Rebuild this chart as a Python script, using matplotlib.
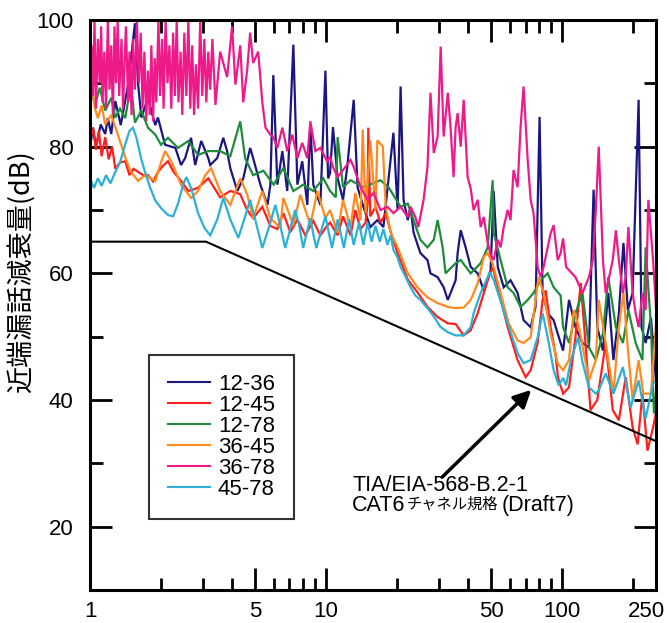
import matplotlib
matplotlib.use('Agg')
import matplotlib.pyplot as plt
import matplotlib.transforms as mtransforms
from matplotlib.lines import Line2D

plt.rcParams['font.family'] = ['Liberation Sans', 'DejaVu Sans']

# ---------------- data (MHz, dB) ----------------
f_1236 = [1.0, 1.03, 1.06, 1.11, 1.16, 1.19, 1.23, 1.28, 1.35, 1.45, 1.55, 1.6, 1.65, 1.76, 1.89, 1.94,
          2.08, 2.3, 2.43, 2.53, 2.68, 2.79, 2.96, 3.17, 3.23, 3.46, 3.67, 3.81, 3.93, 4.21, 4.46, 4.77,
          4.91, 5.27, 5.65, 5.81, 5.98, 6.22, 6.53, 6.85, 7.27, 7.56, 7.93, 8.33, 8.58, 8.83, 9.46, 9.94,
          10.2, 10.4, 10.7, 11.2, 11.8, 12.3, 13.1, 13.6, 14.4, 15.4, 16.5, 17.5, 19.3, 20.1, 20.7, 21.3,
          22.2, 22.8, 23.5, 25.1, 26.9, 27.7, 29.7, 31.5, 32.8, 35.4, 36.1, 37.2, 39.1, 41.0, 43.9, 46.6,
          49.8, 51.3, 53.4, 56.6, 60.5, 64.8, 68.7, 73.6, 77.2, 80.3, 82.7, 86.9, 92.1, 95.8, 101, 107,
          114, 122, 130, 136, 141, 149, 157, 165, 174, 182, 190, 199, 211, 217, 226, 238, 250]
nx_1236 = [80, 83, 80, 83.5, 82, 84.5, 82, 87.2, 83.4, 89.8, 99.5, 89.8, 84.6, 87.7, 83.4, 84.6,
           80.3, 79.8, 77.1, 78.2, 81.4, 77.1, 80.9, 78.2, 77.1, 78.2, 81.4, 79.3, 76.6, 73.0, 75.0, 79.8,
           78.2, 74.0, 70.8, 74.0, 91.3, 74.0, 79.3, 73.0, 96.1, 74.0, 77.7, 70.8, 83.5, 74.0, 70.8, 92.0,
           75.0, 75.8, 83.1, 75.0, 71.6, 76.8, 87.4, 73.6, 70.5, 67.3, 68.4, 67.3, 82.2, 70.0, 89.5, 71.6,
           68.4, 70.5, 66.4, 63.2, 62.1, 60.0, 59.4, 57.8, 55.8, 58.9, 63.2, 66.8, 64.0, 61.0, 60.0, 57.3,
           60.5, 73.0, 61.0, 57.8, 58.9, 56.9, 52.6, 51.5, 54.7, 84.7, 56.9, 53.7, 52.6, 50.5, 47.8, 55.8,
           51.5, 49.0, 48.3, 73.2, 51.5, 47.8, 56.9, 46.3, 53.7, 64.8, 54.2, 56.9, 87.4, 51.5, 49.0, 53.0, 43.0]

f_1245 = [1.0, 1.03, 1.06, 1.09, 1.12, 1.16, 1.2, 1.24, 1.28, 1.34, 1.41, 1.47, 1.53, 1.6, 1.68, 1.76,
          1.85, 1.94, 2.04, 2.14, 2.26, 2.43, 2.61, 2.87, 3.17, 3.56, 3.93, 4.33, 4.63, 4.91, 5.37, 5.81,
          6.22, 6.59, 7.06, 7.56, 8.17, 8.83, 9.46, 10.1, 10.4, 11.2, 11.8, 12.7, 13.3, 14.0, 14.7, 15.0,
          15.1, 15.4, 16.2, 17.0, 17.9, 18.8, 20.1, 22.2, 24.4, 26.9, 29.7, 32.8, 35.4, 38.3, 41.0, 43.9,
          46.6, 48.9, 50.8, 53.4, 58.8, 64.8, 70.1, 73.6, 78.8, 82.7, 85.2, 89.4, 94.0, 96.0, 101, 107,
          114, 120, 125, 132, 141, 153, 164, 174, 186, 199, 209, 219, 230, 243, 250]
nx_1245 = [81, 83, 79.5, 82.5, 78.5, 81.5, 78, 80, 76.5, 77.5, 77.7, 75.5, 76.5, 76, 75.5, 75.5,
           74.5, 76, 77, 77.7, 76, 74.6, 73, 73.5, 75, 72, 73, 72.5, 70, 68.7, 70.5, 67.5,
           67, 69.5, 66.5, 68.5, 66, 68.3, 66, 67.5, 68, 66, 69, 66, 70, 67, 68, 71,
           83, 69, 70.5, 68, 69.5, 66.5, 63.2, 59, 57, 54.7, 53.1, 52.1, 52, 50.2, 51, 53.7,
           56.9, 59.4, 61, 57.8, 51.5, 46.3, 43.6, 44.7, 49, 55.8, 57.3, 51.5, 47, 43.6, 41, 42,
           50, 58.5, 50, 38.4, 40, 49, 38.4, 36.8, 43.6, 35.7, 33, 41, 32, 35.7, 38]

f_1278 = [1.0, 1.01, 1.05, 1.1, 1.16, 1.23, 1.28, 1.34, 1.41, 1.49, 1.55, 1.65, 1.76, 1.89, 2.0, 2.14,
          2.36, 2.61, 2.87, 3.17, 3.56, 3.93, 4.33, 4.54, 4.91, 5.43, 6.0, 6.59, 7.27, 8.01, 8.83, 9.74,
          10.4, 11.0, 11.2, 11.8, 12.7, 14.4, 17.0, 18.4, 20.7, 22.2, 23.5, 25.1, 26.9, 28.6, 29.7, 31.2,
          32.1, 35.4, 37.2, 41.0, 45.2, 48.4, 50.8, 51.3, 54.9, 58.8, 62.3, 66.7, 71.5, 75.7, 81.1, 86.9,
          92.1, 98.6, 101, 107, 114, 122, 130, 139, 149, 157, 169, 181, 191, 205, 219, 226, 238, 245, 250]
nx_1278 = [86, 88.8, 86.6, 89.3, 85.7, 87.7, 84.6, 86, 84.5, 89.8, 83.8, 85.7, 83, 81.9, 80.3, 81.4,
           79.8, 80.9, 78.7, 79.3, 79.3, 78.5, 84, 78.2, 75.5, 76.2, 74, 76.6, 73, 74, 73, 75,
           73, 72, 81.5, 73.6, 74.7, 73.6, 74.7, 73.6, 70.5, 71, 68.4, 65.3, 64.1, 65.3, 68.4, 64.1,
           60, 61.6, 62.1, 60, 61.6, 64.1, 74.7, 66.4, 62.1, 57.8, 56.9, 54.7, 55.8, 56.9, 58.9, 60,
           57.8, 56.5, 51.5, 49, 53.7, 56.9, 48.3, 46.3, 50.5, 59.4, 51.5, 49, 54.2, 49, 46.3, 64.1, 51.5, 37.9, 41]

f_3645 = [1.0, 1.02, 1.05, 1.08, 1.12, 1.16, 1.23, 1.31, 1.41, 1.49, 1.6, 1.71, 1.89, 2.02, 2.08, 2.21,
          2.43, 2.68, 2.87, 3.08, 3.26, 3.56, 3.93, 4.33, 4.63, 4.91, 5.37, 5.81, 6.4, 6.59, 7.27, 7.78,
          8.58, 9.19, 9.94, 10.4, 11.2, 11.8, 12.7, 13.3, 14.0, 14.3, 14.7, 15.4, 16.2, 16.5, 17.4, 17.9,
          18.8, 20.1, 21.1, 22.2, 24.4, 26.9, 29.7, 32.8, 35.4, 38.3, 41.0, 43.9, 46.6, 48.4, 50.8, 54.9,
          59.4, 64.8, 68.7, 73.6, 77.2, 79.5, 83.5, 89.4, 95.8, 101, 107, 112, 118, 130, 139, 143, 153,
          165, 174, 182, 190, 199, 211, 221, 238, 250]
nx_3645 = [86, 89.5, 86, 84.5, 86.5, 83.5, 85, 82, 78.3, 76, 74.6, 75.5, 74.6, 78, 79.3, 77.7,
           74, 71.9, 73, 75.5, 76.6, 73, 70.8, 75, 72.5, 68.7, 73, 68.7, 67.2, 71.9, 67.6, 72.4,
           67.6, 73, 68.7, 70, 66.4, 71.6, 67.3, 72.7, 68.4, 82.7, 69.5, 81, 70, 81, 80, 70.5,
           66.4, 64.1, 62.1, 60, 57.8, 56.2, 55.3, 54.7, 54.5, 54.6, 55.8, 58.4, 62.6, 63.2, 61.5, 56.9,
           52.1, 49.4, 49, 49.9, 55.8, 59.4, 56.9, 50.5, 45.8, 44.7, 46.3, 54.2, 51.5, 43.1, 46.3, 55.8, 49,
           41, 51.5, 56.9, 48, 40, 46.3, 41, 41, 52]

f_3678 = [1.00, 1.015, 1.03, 1.045, 1.06, 1.08, 1.10, 1.115, 1.13, 1.15, 1.17, 1.19, 1.21, 1.23, 1.25,
          1.27, 1.29, 1.31, 1.33, 1.36, 1.38, 1.40, 1.42, 1.45, 1.47, 1.50, 1.52, 1.55, 1.58, 1.61, 1.64,
          1.67, 1.70, 1.73, 1.76, 1.79, 1.82, 1.85, 1.88, 1.91, 1.95, 1.98, 2.02, 2.05, 2.09, 2.13, 2.17,
          2.21, 2.25, 2.29, 2.33, 2.37, 2.42, 2.46, 2.51, 2.56, 2.61, 2.66, 2.71, 2.76, 2.81, 2.87, 2.93,
          2.99, 3.05, 3.11, 3.17, 3.23, 3.3, 3.4, 3.56, 3.81, 4.0, 4.13, 4.33,
          4.46, 4.63, 4.77, 4.91, 5.16, 5.37, 5.54, 5.81, 5.98, 6.22, 6.53, 6.85, 7.2, 7.56, 7.93, 8.33,
          8.58, 9.01, 9.46, 10.1, 10.4, 10.7, 11.2, 11.8, 12.7, 13.1, 14.0, 15.0, 15.9, 17.0, 18.2, 19.3,
          20.7, 22.2, 22.8, 23.9, 24.6, 25.9, 26.9, 27.7, 28.6, 29.7, 30.6, 31.5, 32.8, 33.7, 34.7, 35.4,
          36.1, 37.2, 38.3, 39.8, 41.0, 42.2, 43.9, 45.2, 46.6, 48.4, 49.8, 51.3, 53.4, 54.9, 56.6, 58.8,
          60.5, 62.3, 64.8, 66.7, 68.7, 71.5, 73.6, 75.7, 78.8, 81.1, 83.5, 86.9, 89.4, 92.1, 95.8, 98.6,
          101, 104, 107, 114, 122, 130, 135, 139, 143, 149, 153, 164, 169, 174, 181, 186, 191, 199, 205,
          211, 219, 226, 232, 243, 250]
nx_3678 = [84, 96, 88, 100, 86, 97, 90, 99, 87, 95, 86, 100, 89, 96, 85,
           99, 90, 100, 88, 97, 86, 93, 99, 87, 95, 85, 97, 89, 100, 90, 98,
           86, 95, 84, 92, 85, 96, 84, 94, 87, 100, 88, 97, 86, 100, 90, 96,
           86, 98, 88, 100, 87, 95, 85, 98, 88, 100, 86, 96, 85, 93, 86, 100,
           88, 97, 87, 95, 89, 97, 86.6, 95, 91, 99, 89.8, 96,
           87, 92, 98, 93.2, 95, 87, 83, 81.9, 81.5, 79.8, 83, 79.3, 81.9, 78.2, 80.6, 78.2,
           84, 79.3, 79.8, 77.7, 78.4, 76.8, 75.2, 76.3, 77.9, 76.8, 73.6, 71.6, 72.7, 70, 70.5, 69.5,
           70.5, 68.9, 70.5, 68.9, 67.3, 71.6, 76.8, 88.5, 79, 81.6, 95.8, 81.6, 88.5, 83, 75.2, 83,
           85.3, 80, 87.4, 75.2, 73.4, 70, 71.6, 67.3, 68.9, 64.8, 63, 62.1, 65.3, 64.1, 67.3, 70,
           68.4, 76.3, 73.6, 83.1, 89.5, 77.9, 71.6, 69.5, 61, 59.4, 61, 64.1, 66.3, 67.6, 62.1, 63.2,
           65.5, 61, 60.5, 59.4, 56.9, 59.4, 62.1, 70, 80, 62.1, 56.9, 62.1, 66.8, 62.1, 56.9, 59.4, 67.3, 56.9, 53.7,
           51.5, 56.9, 54.2, 71.6, 62.1, 54.6]

f_4578 = [1.0, 1.04, 1.08, 1.12, 1.17, 1.22, 1.28, 1.34, 1.40, 1.47, 1.52, 1.57, 1.65, 1.71, 1.80, 1.89,
          2.0, 2.14, 2.25, 2.36, 2.48, 2.56, 2.68, 2.87, 3.05, 3.23, 3.46, 3.67, 3.93, 4.25, 4.5, 4.77,
          5.05, 5.37, 5.7, 6.1, 6.4, 6.72, 7.05, 7.4, 7.7, 8.0, 8.3, 8.58, 8.85, 9.1, 9.5, 9.94,
          10.6, 11.2, 11.9, 12.5, 13.1, 13.8, 14.4, 15.0, 15.6, 16.2, 16.9, 17.5, 18.2, 18.8, 19.3, 20.1,
          20.7, 21.7, 22.8, 23.9, 25.1, 26.9, 28.6, 30.6, 32.8, 35.4, 38.3, 41.0, 42.2, 45.2, 48.4, 49.4,
          51.3, 53.4, 58.8, 64.8, 68.7, 73.6, 78.8, 82.7, 86.9, 92.1, 96.8, 101, 104, 109, 117, 122,
          130, 139, 143, 153, 165, 181, 195, 211, 226, 243, 250]
nx_4578 = [75, 73.5, 75, 73.8, 75.5, 74.2, 76, 77.5, 80, 82.5, 83, 81.5, 78, 76, 73.5, 71.5,
           70.3, 69.2, 69, 71, 74, 75.2, 73.5, 69.5, 67.2, 66, 68.5, 71.9, 68.5, 65.6, 68.5, 71.6,
           68, 64, 67, 70.8, 67.5, 64, 67, 70, 67.5, 64, 66.5, 68.7, 66, 64, 66.5, 69,
           64, 68.5, 64, 68.5, 64.5, 68, 64.5, 68, 65, 67.5, 65, 67, 64.5, 66, 63.7, 62.5,
           61, 59.5, 57.8, 56.5, 55.8, 54.5, 53.2, 51.5, 50.7, 50.2, 50.2, 51.5, 53.7, 56.9, 59.4, 60.2,
           59, 57, 52.1, 47.4, 45.8, 46.3, 49.9, 53.7, 49.9, 44.7, 42.3, 43.5, 42.3, 46.3, 49.9, 46,
           42, 41, 41.5, 44.2, 41, 45.2, 38.8, 43.1, 37.1, 42.6, 43]

# TIA/EIA-568-B.2-1 CAT6 channel limit (Draft7)
f_limit = [1.0, 3.1, 250]
nx_limit = [65.0, 65.0, 33.5]

series = [
    ('12-36', f_1236, nx_1236, '#1c1680'),
    ('12-45', f_1245, nx_1245, '#ff1f1f'),
    ('12-78', f_1278, nx_1278, '#1f8c3b'),
    ('36-45', f_3645, nx_3645, '#ff8a1e'),
    ('36-78', f_3678, nx_3678, '#ee1a8a'),
    ('45-78', f_4578, nx_4578, '#2cb1d6'),
]

x_major = [1, 5, 10, 50, 100, 250]
x_minor = [2, 3, 4, 6, 7, 8, 9, 20, 30, 40, 60, 70, 80, 90, 200]
y_major = [20, 40, 60, 80, 100]
y_minor = [30, 50, 70, 90]

# ---------------- figure ----------------
fig = plt.figure(figsize=(6.69, 6.23), dpi=100)
ax = fig.add_axes([90 / 669, 1 - 590 / 623, (656 - 90) / 669, (590 - 20) / 623])

for name, f, v, c in series:
    ax.plot(f, v, color=c, lw=1.6, solid_joinstyle='miter')

ax.plot(f_limit, nx_limit, color='black', lw=1.5)

ax.set_xscale('log')
ax.set_xlim(1, 250)
ax.set_ylim(10, 100)
ax.set_xticks(x_major)
ax.set_xticklabels([str(t) for t in x_major])
ax.set_xticks(x_minor, minor=True)
ax.set_xticklabels([], minor=True)
ax.set_yticks(y_major)
ax.set_yticks(y_minor, minor=True)

ax.tick_params(which='both', direction='in', top=True, right=True, width=2, labelsize=16)
ax.tick_params(which='major', length=16)
ax.tick_params(which='minor', length=9)
ax.tick_params(axis='y', pad=12)
ax.tick_params(axis='x', pad=8)
for s in ax.spines.values():
    s.set_linewidth(2.2)

last = ax.get_xticklabels()[-1]
last.set_transform(last.get_transform() +
                   mtransforms.ScaledTranslation(-0.10, 0, fig.dpi_scale_trans))

ax.set_ylabel('近端漏話減衰量(dB)', fontsize=19.5,
              family=['Noto Sans CJK JP', 'DejaVu Sans'])
ax.yaxis.set_label_coords(-0.095, 0.558)

handles = [Line2D([], [], color=c, lw=1.5) for _, _, _, c in series]
leg = ax.legend(handles, [s[0] for s in series], loc='upper left',
                bbox_to_anchor=(0.104, 0.412), borderaxespad=0, frameon=True,
                fancybox=False, edgecolor='black', fontsize=16,
                handlelength=1.9, handletextpad=0.35, labelspacing=0.0,
                borderpad=0.85)
leg.get_frame().set_linewidth(1.5)

ax.annotate('', xy=(74, 41.6), xytext=(31, 27.8),
            arrowprops=dict(arrowstyle='-|>', lw=2.5, color='black',
                            mutation_scale=26, shrinkA=0, shrinkB=0))
t1 = ax.text(12.9, 28.2, 'TIA/EIA-568-B.2-1', fontsize=15.5, ha='left', va='top')
t2 = ax.annotate('CAT6', xy=(0, 0), xycoords=t1, xytext=(0, 0.5),
                 textcoords='offset points', fontsize=15.5, ha='left', va='top')
t3 = ax.annotate('チャネル規格', xy=(1, 0), xycoords=t2, xytext=(0.5, 2.6),
                 textcoords='offset points', fontsize=11,
                 family=['Noto Sans CJK JP', 'DejaVu Sans'], ha='left', va='bottom')
t4 = ax.annotate('(Draft7)', xy=(1, 0), xycoords=t3, xytext=(2.5, -2.6),
                 textcoords='offset points', fontsize=15.5, ha='left', va='bottom')

fig.savefig('out.png', dpi=100)
